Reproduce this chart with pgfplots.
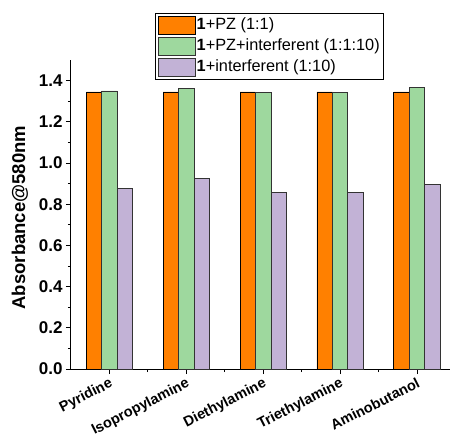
\documentclass[border=0pt]{standalone}
\usepackage{fontspec}
\setmainfont{Liberation Sans}
\usepackage{pgfplots}
\pgfplotsset{compat=1.18}
\definecolor{corange}{RGB}{255,128,0}
\definecolor{cgreen}{RGB}{158,216,158}
\definecolor{cpurple}{RGB}{194,178,214}
\begin{document}
\begin{tikzpicture}
\path[use as bounding box, fill=white] (-71pt,-68pt) rectangle (380pt,369pt);
\begin{axis}[
  at={(0pt,0pt)}, anchor=south west,
  scale only axis, width=379pt, height=309pt,
  xmin=0.5, xmax=5.43, ymin=0, ymax=1.5,
  axis x line*=bottom, axis y line*=left,
  axis line style={black, line width=1pt},
  ytick={0,0.2,0.4,0.6,0.8,1.0,1.2,1.4},
  minor y tick num=1,
  xtick={1,2,3,4,5}, minor x tick num=1,
  xticklabels={Pyridine,Isopropylamine,Diethylamine,Triethylamine,Aminobutanol},
  tick align=outside, major tick length=5pt, minor tick length=3pt,
  tick style={black, line width=0.8pt},
  y tick label style={font=\bfseries\fontsize{17}{17}\selectfont,
    /pgf/number format/.cd, fixed, fixed zerofill, precision=1, assume math mode=true},
  x tick label style={font=\bfseries\fontsize{14.5}{14.5}\selectfont, rotate=27, anchor=north east, inner sep=2pt},
  ylabel={Absorbance@580nm},
  ylabel style={font=\bfseries\fontsize{18.5}{18.5}\selectfont, at={(axis description cs:-0.135,0.49)}, anchor=center},
  ybar=0pt, bar width=15.4pt,
  legend style={at={(axis description cs:0.222,1.152)}, anchor=north west, draw=black, line width=0.8pt,
    font=\fontsize{16.3}{16.3}\selectfont, inner sep=2.5pt, row sep=2.5pt,
    nodes={inner sep=1pt, text height=12pt, text depth=4pt}},
  legend cell align=left,
  legend image code/.code={\draw[#1] (0pt,-9pt) rectangle (37pt,9pt);},
]
\addplot[fill=corange, draw=black, line width=0.7pt] coordinates {(1,1.345) (2,1.345) (3,1.345) (4,1.345) (5,1.345)};
\addplot[fill=cgreen, draw=black!80, line width=0.7pt] coordinates {(1,1.350) (2,1.363) (3,1.344) (4,1.342) (5,1.368)};
\addplot[fill=cpurple, draw=black!80, line width=0.7pt] coordinates {(1,0.877) (2,0.927) (3,0.859) (4,0.859) (5,0.896)};
\legend{{\textbf{1}+PZ (1:1)},{\textbf{1}+PZ+interferent (1:1:10)},{\textbf{1}+interferent (1:10)}}
\end{axis}
\end{tikzpicture}
\end{document}
